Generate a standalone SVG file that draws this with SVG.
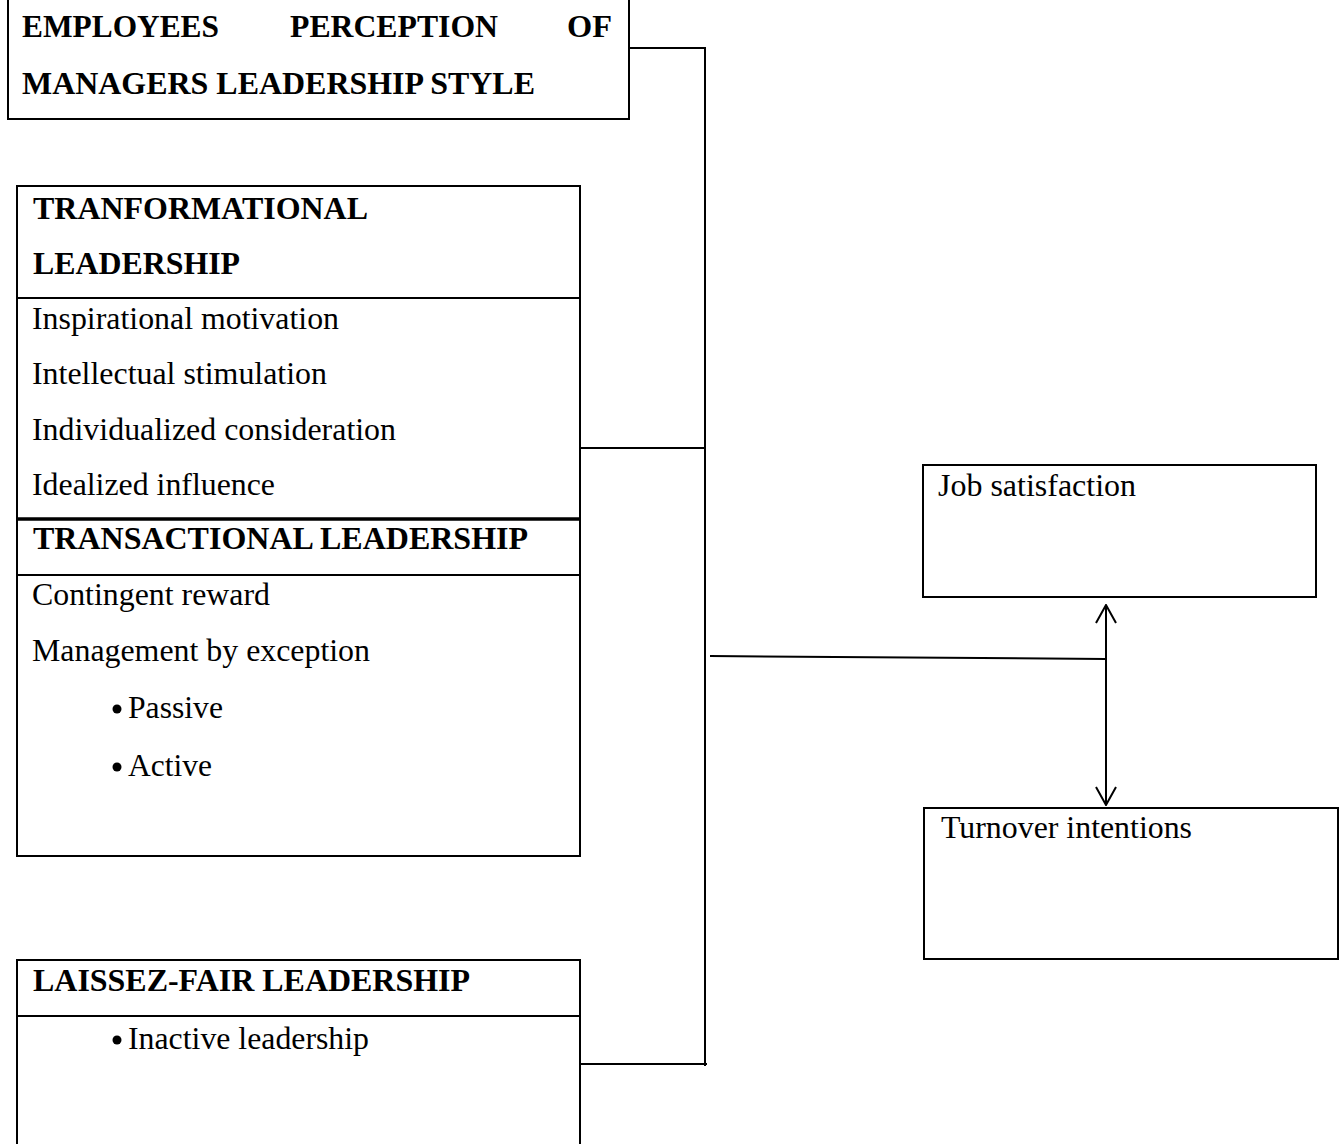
<svg xmlns="http://www.w3.org/2000/svg" width="1342" height="1144" viewBox="0 0 1342 1144">
<style>
.box{fill:#fff;stroke:#000;stroke-width:2}
.ln{stroke:#000;stroke-width:2;fill:none}
text{font-family:"Liberation Serif",Tinos,"Times New Roman",Times,serif;fill:#000}
.b{font-weight:bold;font-size:31px}
.r{font-size:31px}
</style>
<defs>
<marker id="open" viewBox="0 0 20 22" refX="19" refY="11" markerWidth="20" markerHeight="22" markerUnits="userSpaceOnUse" orient="auto-start-reverse">
<path d="M1,1 L19,11 L1,21" fill="none" stroke="#000" stroke-width="2"/>
</marker>
</defs>
<rect width="1342" height="1144" fill="#fff"/>
<g id="connectors">
<polyline class="ln" points="629,48 705,48 705,1066"/>
<line class="ln" x1="578" y1="448" x2="705" y2="448"/>
<line class="ln" x1="578" y1="1064" x2="707" y2="1064"/>
<line class="ln" x1="710" y1="656" x2="1106" y2="659"/>
<line class="ln" x1="1106" y1="605" x2="1106" y2="805" marker-start="url(#open)" marker-end="url(#open)"/>
</g>
<g id="perception">
<rect class="box" x="8" y="-2" width="621" height="121"/>
<text class="b" x="22" y="37" textLength="197" lengthAdjust="spacingAndGlyphs">EMPLOYEES</text>
<text class="b" x="290" y="37" textLength="208" lengthAdjust="spacingAndGlyphs">PERCEPTION</text>
<text class="b" x="567" y="37" textLength="45" lengthAdjust="spacingAndGlyphs">OF</text>
<text class="b" x="22" y="94" textLength="513" lengthAdjust="spacingAndGlyphs">MANAGERS LEADERSHIP STYLE</text>
</g>
<g id="transformational-transactional">
<rect class="box" x="17" y="186" width="563" height="670"/>
<line class="ln" x1="17" y1="298" x2="580" y2="298"/>
<line x1="17" y1="519" x2="580" y2="519" stroke="#000" stroke-width="3.5"/>
<line class="ln" x1="17" y1="575" x2="580" y2="575"/>
<text class="b" x="33" y="219" textLength="335" lengthAdjust="spacingAndGlyphs">TRANFORMATIONAL</text>
<text class="b" x="33" y="274" textLength="207" lengthAdjust="spacingAndGlyphs">LEADERSHIP</text>
<text class="r" x="32" y="329" textLength="307" lengthAdjust="spacingAndGlyphs">Inspirational motivation</text>
<text class="r" x="32" y="384" textLength="295" lengthAdjust="spacingAndGlyphs">Intellectual stimulation</text>
<text class="r" x="32" y="440" textLength="364" lengthAdjust="spacingAndGlyphs">Individualized consideration</text>
<text class="r" x="32" y="495" textLength="243" lengthAdjust="spacingAndGlyphs">Idealized influence</text>
<text class="b" x="33" y="549" textLength="495" lengthAdjust="spacingAndGlyphs">TRANSACTIONAL LEADERSHIP</text>
<text class="r" x="32" y="605" textLength="238" lengthAdjust="spacingAndGlyphs">Contingent reward</text>
<text class="r" x="32" y="661" textLength="338" lengthAdjust="spacingAndGlyphs">Management by exception</text>
<circle cx="117" cy="709" r="4.5"/>
<text class="r" x="128" y="718" textLength="95" lengthAdjust="spacingAndGlyphs">Passive</text>
<circle cx="117" cy="767" r="4.5"/>
<text class="r" x="128" y="776" textLength="84" lengthAdjust="spacingAndGlyphs">Active</text>
</g>
<g id="laissez-faire">
<rect class="box" x="17" y="960" width="563" height="200"/>
<line class="ln" x1="17" y1="1016" x2="580" y2="1016"/>
<text class="b" x="33" y="991" textLength="437" lengthAdjust="spacingAndGlyphs">LAISSEZ-FAIR LEADERSHIP</text>
<circle cx="117" cy="1040" r="4.5"/>
<text class="r" x="128" y="1049" textLength="241" lengthAdjust="spacingAndGlyphs">Inactive leadership</text>
</g>
<g id="job-satisfaction">
<rect class="box" x="923" y="465" width="393" height="132"/>
<text class="r" x="938" y="496" textLength="198" lengthAdjust="spacingAndGlyphs">Job satisfaction</text>
</g>
<g id="turnover-intentions">
<rect class="box" x="924" y="808" width="414" height="151"/>
<text class="r" x="941" y="838" textLength="251" lengthAdjust="spacingAndGlyphs">Turnover intentions</text>
</g>
</svg>
